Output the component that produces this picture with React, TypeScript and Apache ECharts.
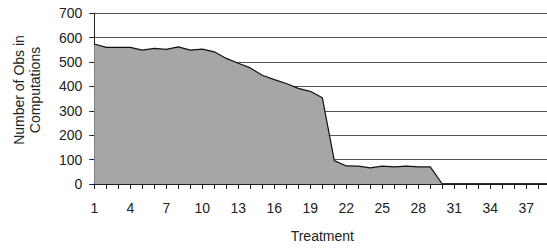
import React, { useEffect, useRef } from "react";
import * as echarts from "echarts";

const categories: string[] = Array.from({ length: 39 }, (_, i) => String(i + 1));
const obsValues: number[] = [
  574, 560, 560, 560, 549, 556, 552, 562, 549, 553,
  542, 515, 495, 476, 446, 428, 412, 392, 380, 354,
  96, 74, 73, 66, 73, 70, 73, 70, 70, 0,
  0, 0, 0, 0, 0, 0, 0, 0, 0,
];
const yAxisName = ["Number of Obs in", "Computations"];
const xAxisName = "Treatment";

export default function App() {
  const ref = useRef<HTMLDivElement>(null);
  useEffect(() => {
    document.body.style.margin = "0";
    const chart = echarts.init(ref.current!, null, { renderer: "svg" });
    const font = "'Liberation Sans', Arial, Helvetica, sans-serif";
    chart.setOption({
      animation: false,
      backgroundColor: "#ffffff",
      textStyle: { fontFamily: font },
      grid: { left: 94.3, top: 13.3, right: 9.7, bottom: 62.7, containLabel: false },
      xAxis: {
        type: "category",
        data: categories,
        boundaryGap: false,
        name: xAxisName,
        nameLocation: "middle",
        nameGap: 45,
        nameTextStyle: { fontSize: 14, color: "#222", fontFamily: font },
        axisLine: { show: true, lineStyle: { color: "#111", width: 1.5 } },
        axisTick: { show: true, interval: 0, length: 5, lineStyle: { color: "#222" } },
        axisLabel: { interval: 2, margin: 17, fontSize: 14, color: "#222", fontFamily: font },
        splitLine: { show: false },
      },
      yAxis: {
        type: "value",
        min: 0,
        max: 700,
        interval: 100,
        axisLine: { show: true, lineStyle: { color: "#222", width: 1 } },
        axisTick: { show: true, length: 5, lineStyle: { color: "#222" } },
        axisLabel: { margin: 12, fontSize: 14, color: "#222", fontFamily: font },
        splitLine: { show: true, lineStyle: { color: "#555", width: 1 } },
      },
      graphic: [
        {
          type: "text",
          x: 27,
          y: 90,
          rotation: Math.PI / 2,
          style: {
            text: yAxisName.join("\n"),
            fontSize: 14,
            lineHeight: 16,
            fill: "#222",
            fontFamily: font,
            align: "center",
            verticalAlign: "middle",
          },
        },
      ],
      series: [
        {
          type: "line",
          data: obsValues,
          symbol: "none",
          lineStyle: { color: "#111", width: 1.2 },
          areaStyle: { color: "#a6a6a6", opacity: 1 },
          z: 3,
        },
      ],
    });
    return () => chart.dispose();
  }, []);
  return (
    <div style={{ width: 547, height: 248, overflow: "hidden", position: "relative" }}>
      <div ref={ref} style={{ position: "absolute", left: 0, top: 0, width: 560, height: 248 }} />
    </div>
  );
}
